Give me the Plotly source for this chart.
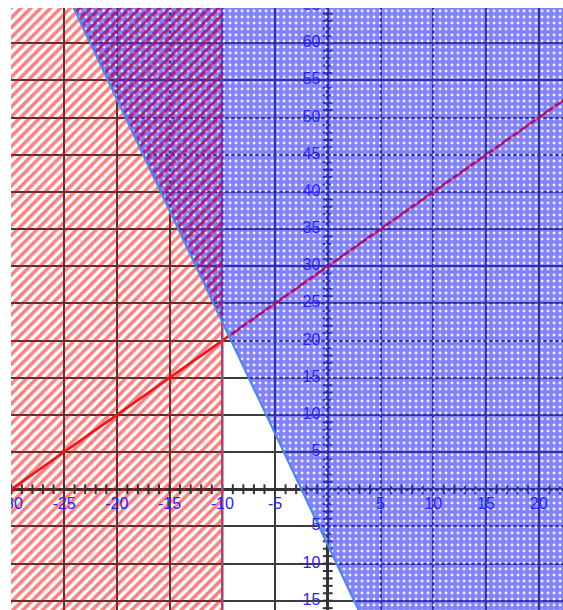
import numpy as np
import plotly.graph_objects as go

# ---- data ----
x_label_values = [-30, -25, -20, -15, -10, -5, 5, 10, 15, 20]
y_label_values = [65, 60, 55, 50, 45, 40, 35, 30, 25, 20, 15, 10, 5, -5, -10, -15]
red_line_slope = 1.0
red_line_intercept = 30.0
blue_line_slope = -3.0
blue_line_intercept = -7.5
vertical_boundary_x = -10.0

X_RANGE = [-30.03, 22.3]
Y_RANGE = [-16.25, 64.75]

BLUE_TEXT = "#2424ff"
AXIS_COLOR = "#333333"

fig = go.Figure()

xlo, xhi = X_RANGE[0] - 5, X_RANGE[1] + 5
ylo, yhi = Y_RANGE[0] - 5, Y_RANGE[1] + 5

# red hatched region x <= -10
fig.add_trace(go.Scatter(
    x=[xlo, vertical_boundary_x, vertical_boundary_x, xlo, xlo],
    y=[ylo, ylo, yhi, yhi, ylo],
    mode="none", fill="toself", fillcolor="rgba(0,0,0,0)",
    fillpattern=dict(shape="/", fgcolor="#ff0000", bgcolor="rgba(0,0,0,0)",
                     size=7, solidity=0.5),
    hoverinfo="skip", showlegend=False))

# unit ticks on the axes
xt = np.arange(np.ceil(X_RANGE[0]), np.floor(X_RANGE[1]) + 1)
yt = np.arange(np.ceil(Y_RANGE[0]), np.floor(Y_RANGE[1]) + 1)
fig.add_trace(go.Scatter(
    x=xt, y=np.zeros_like(xt), mode="markers",
    marker=dict(symbol="line-ns", size=7, line=dict(width=2, color=AXIS_COLOR)),
    hoverinfo="skip", showlegend=False, cliponaxis=True))
fig.add_trace(go.Scatter(
    x=np.zeros_like(yt), y=yt, mode="markers",
    marker=dict(symbol="line-ew", size=7, line=dict(width=2, color=AXIS_COLOR)),
    hoverinfo="skip", showlegend=False, cliponaxis=True))

# red line y = x + 30
rx = np.array([xlo, xhi])
fig.add_trace(go.Scatter(
    x=rx, y=red_line_slope * rx + red_line_intercept, mode="lines",
    line=dict(color="#ff1010", width=2.6), hoverinfo="skip", showlegend=False))

# vertical boundary x = -10
fig.add_trace(go.Scatter(
    x=[vertical_boundary_x, vertical_boundary_x], y=[ylo, yhi], mode="lines",
    line=dict(color="#a0487c", width=2.5), hoverinfo="skip", showlegend=False))

# blue dotted region y >= -3x - 7.5
x_top = (yhi - blue_line_intercept) / blue_line_slope
x_bot = (ylo - blue_line_intercept) / blue_line_slope
fig.add_trace(go.Scatter(
    x=[x_top, xhi, xhi, x_bot, x_top],
    y=[yhi, yhi, ylo, ylo, yhi],
    mode="none", fill="toself", fillcolor="rgba(40,40,250,0.58)",
    fillpattern=dict(shape=".", fgcolor="white", bgcolor="rgba(40,40,250,0.58)",
                     fgopacity=0.9, size=6, solidity=0.18),
    hoverinfo="skip", showlegend=False))

# red hatch seen through the blue region (overlap of both regions)
y_at_vert = blue_line_slope * vertical_boundary_x + blue_line_intercept
fig.add_trace(go.Scatter(
    x=[x_top, vertical_boundary_x, vertical_boundary_x, x_top],
    y=[yhi, yhi, y_at_vert, yhi],
    mode="none", fill="toself", fillcolor="rgba(0,0,0,0)",
    fillpattern=dict(shape="/", fgcolor="rgb(190,10,90)", bgcolor="rgba(0,0,0,0)",
                     fgopacity=0.75, size=7, solidity=0.4),
    hoverinfo="skip", showlegend=False))

# red line seen through the blue region (tinted overlay)
x_cross = (blue_line_intercept - red_line_intercept) / (red_line_slope - blue_line_slope)
ox = np.array([x_cross, xhi])
fig.add_trace(go.Scatter(
    x=ox, y=red_line_slope * ox + red_line_intercept, mode="lines",
    line=dict(color="rgba(210,0,60,0.6)", width=2), hoverinfo="skip", showlegend=False))

# blue boundary line
bx = np.array([x_top, x_bot])
fig.add_trace(go.Scatter(
    x=bx, y=blue_line_slope * bx + blue_line_intercept, mode="lines",
    line=dict(color="#4a86ff", width=2.2), hoverinfo="skip", showlegend=False))

# tick labels
fig.add_trace(go.Scatter(
    x=x_label_values, y=[-2.15] * len(x_label_values), mode="text",
    text=[str(v) for v in x_label_values], textposition="middle center",
    textfont=dict(family="Liberation Sans, Arial", size=16, color=BLUE_TEXT),
    cliponaxis=True, hoverinfo="skip", showlegend=False))
fig.add_trace(go.Scatter(
    x=[-0.7] * len(y_label_values), y=y_label_values, mode="text",
    text=[str(v) for v in y_label_values], textposition="middle left",
    textfont=dict(family="Liberation Sans, Arial", size=16, color=BLUE_TEXT),
    cliponaxis=True, hoverinfo="skip", showlegend=False))

fig.update_layout(
    width=563, height=610,
    margin=dict(l=11, r=0, t=8, b=0),
    paper_bgcolor="white", plot_bgcolor="white",
    showlegend=False,
)
fig.update_xaxes(range=X_RANGE, dtick=5, tick0=0, showgrid=True,
                 gridcolor="#3c3c3c", gridwidth=1.6, showticklabels=False,
                 zeroline=True, zerolinecolor=AXIS_COLOR, zerolinewidth=3,
                 showline=False, ticks="", fixedrange=True)
fig.update_yaxes(range=Y_RANGE, dtick=5, tick0=0, showgrid=True,
                 gridcolor="#3c3c3c", gridwidth=1.6, showticklabels=False,
                 zeroline=True, zerolinecolor=AXIS_COLOR, zerolinewidth=3,
                 showline=False, ticks="", fixedrange=True)

fig.write_html(
    "out.html",
    config={"displayModeBar": False},
    post_script="document.body.style.margin='0';document.body.style.overflow='hidden';",
)
